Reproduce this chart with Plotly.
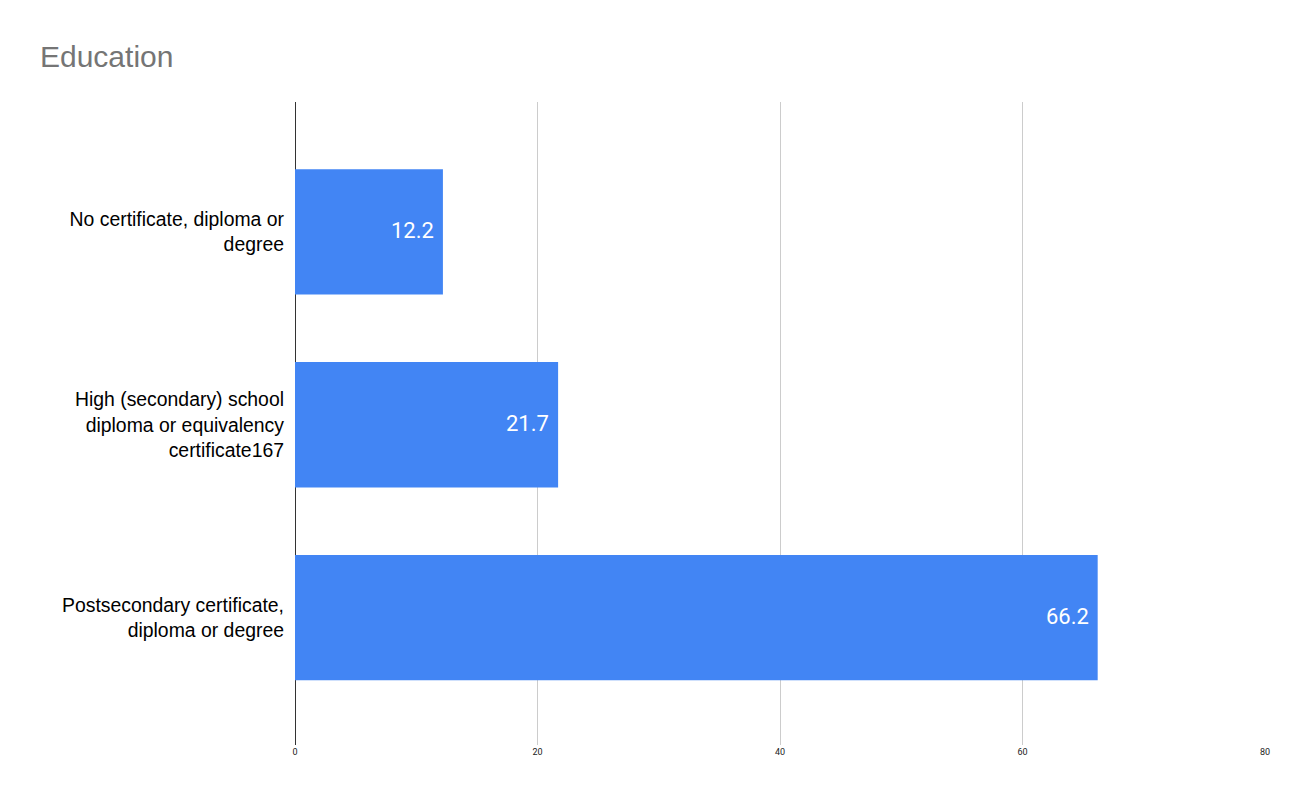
import plotly.graph_objects as go

categories = [
    "No certificate, diploma or<br>degree",
    "High (secondary) school<br>diploma or equivalency<br>certificate167",
    "Postsecondary certificate,<br>diploma or degree",
]
values = [12.2, 21.7, 66.2]
x_ticks = [0, 20, 40, 60, 80]

fig = go.Figure()
fig.add_trace(go.Bar(
    y=categories, x=values, orientation='h',
    marker=dict(color='#4285F4', line=dict(width=0)),
    width=0.65,
    hoverinfo='x+y',
))

# value labels inside the bar end, with a bit of padding
for cat, v in zip(categories, values):
    fig.add_annotation(x=v, y=cat, text=f"{v}", showarrow=False,
                       xanchor='right', xshift=-7, yshift=1,
                       font=dict(family='Roboto', size=22, color='white'))

# page has an 8px body margin, so margins are shifted by 8
fig.update_layout(
    width=1306, height=807,
    title=dict(text='Education', x=0.0245, xanchor='left', y=0.94, yanchor='middle',
               font=dict(family='Liberation Sans', size=30, color='#757575')),
    plot_bgcolor='white', paper_bgcolor='white',
    margin=dict(l=287, r=49, t=94, b=70),
    showlegend=False,
    xaxis=dict(range=[0, 80], tickvals=x_ticks, showgrid=True, gridcolor='#cccccc',
               zeroline=True, zerolinecolor='#333333', zerolinewidth=1,
               tickfont=dict(family='Roboto', size=9, color='#222222'), ticks=''),
    yaxis=dict(autorange=False, range=[2.661, -0.674], type='category',
               tickfont=dict(family='Liberation Sans', size=19.4, color='black'), ticks='',
               ticklabelstandoff=10),
)

fig.write_html("out.html")
